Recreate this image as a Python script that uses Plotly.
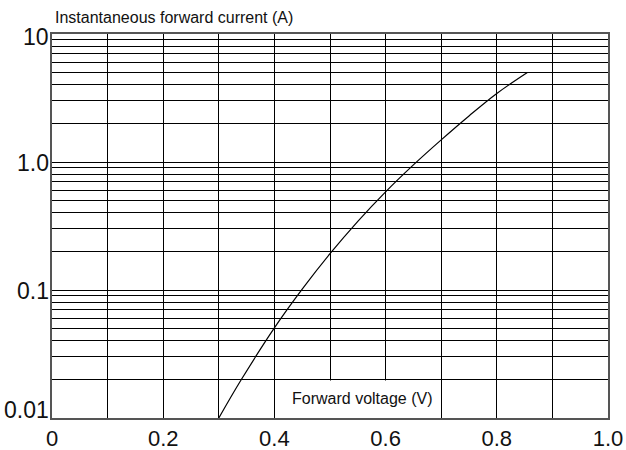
import math
import plotly.graph_objects as go

# Curve data (forward voltage V, instantaneous forward current A)
voltage = [0.30, 0.34, 0.40, 0.45, 0.50, 0.55, 0.60, 0.65, 0.70, 0.75, 0.80, 0.855]
current = [0.0100, 0.0198, 0.0506, 0.1015, 0.192, 0.344, 0.585, 0.950, 1.49, 2.29, 3.43, 5.0]

x_ticks = [0.0, 0.1, 0.2, 0.3, 0.4, 0.5, 0.6, 0.7, 0.8, 0.9, 1.0]
x_labels = ["0", "", "0.2", "", "0.4", "", "0.6", "", "0.8", "", "1.0"]

decades = [0.01, 0.1, 1.0]
y_ticks = [d * m for d in decades for m in range(1, 10)] + [10.0]
y_label_values = [10.0, 1.0, 0.1, 0.01]
y_label_texts = ["10", "1.0", "0.1", "0.01"]

x_title = "Forward voltage (V)"
y_title = "Instantaneous forward current (A)"

font_family = "Liberation Sans, Arial, sans-serif"

fig = go.Figure()
fig.add_trace(go.Scatter(
    x=voltage, y=current, mode="lines",
    line=dict(color="black", width=1.2, shape="spline", smoothing=1.0),
    hoverinfo="skip", showlegend=False,
))

# white box behind the x-axis title (between gridlines and traces)
fig.add_shape(type="rect", xref="x", yref="y",
              x0=0.403, x1=0.697, y0=0.01, y1=0.0196,
              fillcolor="white", line=dict(width=0), layer="between")

fig.add_annotation(x=0.5576, y=-1.844, xref="x", yref="y", text=x_title,
                   showarrow=False, font=dict(family=font_family, size=16, color="#111"))
fig.add_annotation(x=(53 - 52) / 556, y=1 + (34 - 18) / 384, xref="paper", yref="paper",
                   text=y_title, showarrow=False, xanchor="left", yanchor="middle",
                   font=dict(family=font_family, size=16, color="#111"))

# y-axis decade labels
for val, txt in zip(y_label_values, y_label_texts):
    shift = 8 if val == 0.01 else (-3 if val == 10.0 else -1)
    fig.add_annotation(x=0, y=math.log10(val), xref="paper", yref="y", text=txt,
                       showarrow=False, xanchor="right", yanchor="middle",
                       xshift=-1, yshift=shift,
                       font=dict(family=font_family, size=23, color="#111"))

fig.update_layout(
    width=626, height=450,
    margin=dict(l=52, r=18, t=34, b=32, autoexpand=False),
    paper_bgcolor="white", plot_bgcolor="white",
    font=dict(family=font_family, size=22, color="#111"),
    xaxis=dict(range=[0, 1], tickvals=x_ticks, ticktext=x_labels, automargin=False,
               showgrid=True, gridcolor="black", gridwidth=1,
               showline=True, linecolor="#555", linewidth=1.5, mirror=True,
               ticks="", zeroline=False, tickfont=dict(size=22)),
    yaxis=dict(type="log", range=[-2, 1], tickvals=y_ticks, ticktext=[""] * len(y_ticks),
               automargin=False,
               showgrid=True, gridcolor="black", gridwidth=1,
               showline=True, linecolor="#555", linewidth=1.5, mirror=True,
               ticks="", zeroline=False),
)

# remove the default page margin so the 626x450 figure fills the window exactly
fig.write_html("out.html", config={"displayModeBar": False},
               post_script="document.body.style.margin='0';document.body.style.overflow='hidden';")
